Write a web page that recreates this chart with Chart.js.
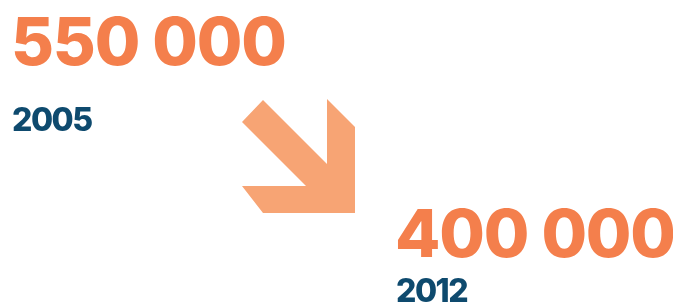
<!DOCTYPE html>
<html>
<head>
<meta charset="utf-8">
<script src="https://cdn.jsdelivr.net/npm/chart.js@4"></script>
<style>
  html, body { margin: 0; padding: 0; background: #fff; }
  canvas { display: block; }
</style>
</head>
<body>
<canvas id="chart" width="673" height="303"></canvas>
<script>
// the two figures
const years = [2005, 2012];
const values = [550000, 400000];

const orange = 'rgb(244, 127, 76)';
const arrowColor = 'rgb(247, 164, 116)';
const blue = 'rgb(14, 74, 110)';

// "550000" -> "550 000"
function fmt(v) {
    return String(v).replace(/\B(?=(\d{3})+(?!\d))/g, ' ');
}

// big number + year under each point
const labelPlugin = {
    id: 'labels',
    afterDatasetsDraw(chart) {
        const ctx = chart.ctx;
        const pts = chart.getDatasetMeta(0).data;
        const yearGap = [66, 45];
        ctx.save();
        ctx.textAlign = 'left';
        ctx.textBaseline = 'alphabetic';
        pts.forEach((p, i) => {
            ctx.fillStyle = orange;
            ctx.font = '800 66px Inter';
            ctx.letterSpacing = '-1.2px';
            ctx.fillText(fmt(values[i]), p.x - 2, p.y);
            ctx.fillStyle = blue;
            ctx.font = '800 32px Inter';
            ctx.letterSpacing = '-1.5px';
            ctx.fillText(String(years[i]), p.x - 1, p.y + yearGap[i]);
        });
        ctx.restore();
    }
};

// the down-right arrow between the two numbers
const arrowPlugin = {
    id: 'arrow',
    beforeDatasetsDraw(chart) {
        const ctx = chart.ctx;
        const a = chart.chartArea;
        const shape = [
            [250, 35], [314, 99], [314, 34], [342, 62], [342, 148],
            [250, 148], [229, 121], [293, 121], [229, 57]
        ];
        ctx.save();
        ctx.fillStyle = arrowColor;
        ctx.beginPath();
        shape.forEach(([x, y], i) => {
            if (i === 0) ctx.moveTo(a.left + x, a.top + y);
            else ctx.lineTo(a.left + x, a.top + y);
        });
        ctx.closePath();
        ctx.fill();
        ctx.restore();
    }
};

const data = {
    datasets: [{
        data: years.map((y, i) => ({ x: y, y: values[i] })),
        showLine: false,
        pointRadius: 0,
        borderColor: orange,
        backgroundColor: orange
    }]
};

const config = {
    type: 'scatter',
    data: data,
    options: {
        responsive: false,
        animation: false,
        layout: { padding: { left: 13, right: 276, top: 65, bottom: 46 } },
        scales: {
            x: { type: 'linear', min: 2005, max: 2012, display: false },
            y: { type: 'linear', min: 400000, max: 550000, display: false }
        },
        plugins: {
            legend: { display: false },
            tooltip: { enabled: false }
        }
    },
    plugins: [arrowPlugin, labelPlugin]
};

const myChart = new Chart(document.getElementById('chart'), config);
</script>
</body>
</html>
